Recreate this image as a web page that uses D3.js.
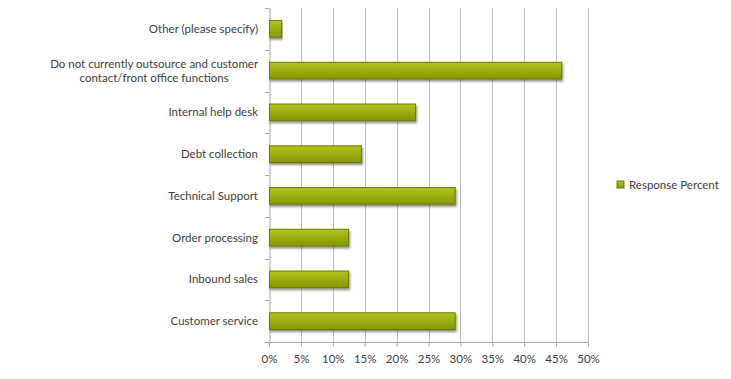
<!DOCTYPE html>
<html><head><meta charset="utf-8">
<script src="https://cdn.jsdelivr.net/npm/d3@7"></script>
<style>body{margin:0;background:#fff;}svg{display:block;}</style>
</head><body>
<svg id="chart" width="731" height="379"></svg>
<script>
const categories = ["Other (please specify)", "Do not currently outsource and customer|contact/front office functions", "Internal help desk", "Debt collection", "Technical Support", "Order processing", "Inbound sales", "Customer service"];
const values = [1.9, 45.8, 22.9, 14.4, 29.1, 12.4, 12.4, 29.1];
const ticks = [0, 5, 10, 15, 20, 25, 30, 35, 40, 45, 50];
const seriesName = "Response Percent";

const svg = d3.select("#chart");
const m = {left: 269, right: 143, top: 8, bottom: 37};
const W = 731, H = 379;
const x = d3.scaleLinear().domain([0, 50]).range([m.left, W - m.right]);
const y = d3.scaleBand().domain(categories).range([m.top, H - m.bottom]).paddingInner(0.6).paddingOuter(0.3);
const yb = d3.scaleBand().domain(categories).range([m.top, H - m.bottom]);

const defs = svg.append("defs");
const g = defs.append("linearGradient").attr("id", "bg").attr("x1", 0).attr("y1", 0).attr("x2", 0).attr("y2", 1);
g.append("stop").attr("offset", "0%").attr("stop-color", "#b4c322");
g.append("stop").attr("offset", "45%").attr("stop-color", "#9fb010");
g.append("stop").attr("offset", "100%").attr("stop-color", "#879600");
const f = defs.append("filter").attr("id", "sh").attr("x", "-5%").attr("y", "-30%").attr("width", "115%").attr("height", "190%");
f.append("feDropShadow").attr("dx", 1).attr("dy", 2).attr("stdDeviation", 1.2).attr("flood-color", "#000").attr("flood-opacity", 0.45);

// gridlines
svg.append("g").selectAll("line").data(ticks.slice(1)).join("line")
  .attr("x1", d => Math.round(x(d)) + 0.5).attr("x2", d => Math.round(x(d)) + 0.5)
  .attr("y1", m.top).attr("y2", H - m.bottom)
  .attr("stroke", "#bdbdbd").attr("stroke-width", 1);

// x axis
const xa = svg.append("g").attr("transform", `translate(0,${H - m.bottom + 0.5})`)
  .call(d3.axisBottom(x).tickValues(ticks).tickFormat(d => d + "%").tickSize(4));
xa.select(".domain").attr("stroke", "#a6a6a6").attr("d", `M${x(0)},0H${x(50)+0.5}`);
xa.selectAll(".tick line").attr("stroke", "#a6a6a6");
xa.selectAll("text").attr("font-family", "Lato, 'Open Sans', sans-serif").attr("font-size", 11.5).attr("fill", "#404040").attr("dy", "1.15em");

// y axis
const ya = svg.append("g").attr("transform", `translate(${Math.round(x(0)) + 0.5},0)`)
  .call(d3.axisLeft(yb).tickSize(0).tickFormat(""));
ya.select(".domain").attr("stroke", "#a6a6a6");
const yTicks = categories.map(c => yb(c)).concat([H - m.bottom]);
svg.append("g").selectAll("line").data(yTicks).join("line")
  .attr("x1", Math.round(x(0)) - 4).attr("x2", Math.round(x(0)) + 0.5)
  .attr("y1", d => Math.round(d) + 0.5).attr("y2", d => Math.round(d) + 0.5)
  .attr("stroke", "#a6a6a6");

// category labels
const lab = svg.append("g").attr("font-family", "Lato, 'Open Sans', sans-serif").attr("font-size", 11.5).attr("fill", "#404040");
const rightEdge = x(0) - 11;
categories.forEach(c => {
  const lines = c.split("|");
  const cy = yb(c) + yb.bandwidth() / 2;
  const lh = 14;
  const t = lab.append("text").attr("y", cy - (lines.length - 1) * lh / 2);
  const spans = lines.map((l, i) => t.append("tspan").attr("dy", i === 0 ? "0.35em" : lh).text(l));
  if (lines.length === 1) {
    t.attr("text-anchor", "end");
    spans.forEach(s => s.attr("x", rightEdge));
  } else {
    t.attr("text-anchor", "middle");
    const wmax = d3.max(spans, s => s.node().getComputedTextLength());
    spans.forEach(s => s.attr("x", rightEdge - wmax / 2));
  }
});

// bars
svg.append("g").selectAll("rect").data(categories).join("rect")
  .attr("x", x(0) + 0.5).attr("y", c => y(c))
  .attr("width", (c, i) => x(values[i]) - x(0)).attr("height", y.bandwidth())
  .attr("fill", "url(#bg)").attr("stroke", "#6d7800").attr("stroke-width", 1)
  .attr("filter", "url(#sh)");

// legend
const lg = svg.append("g").attr("transform", "translate(617,181)");
lg.append("rect").attr("x", 0).attr("y", 0).attr("width", 7).attr("height", 7)
  .attr("fill", "url(#bg)").attr("stroke", "#6d7800");
lg.append("text").attr("x", 12).attr("y", 4).attr("dy", "0.35em")
  .attr("font-family", "Lato, 'Open Sans', sans-serif").attr("font-size", 11.5).attr("fill", "#404040")
  .text(seriesName);
</script>
</body></html>
